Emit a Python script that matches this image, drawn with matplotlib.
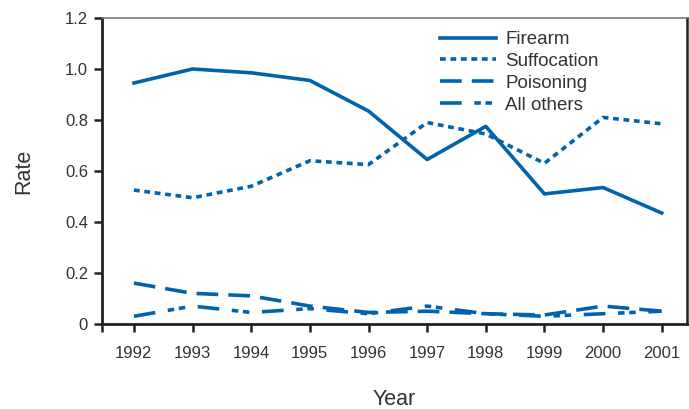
import matplotlib
matplotlib.use("Agg")
import matplotlib.pyplot as plt

plt.rcParams['font.family'] = ['Liberation Sans', 'DejaVu Sans']

years = [1992, 1993, 1994, 1995, 1996, 1997, 1998, 1999, 2000, 2001]
firearm = [0.945, 1.00, 0.985, 0.955, 0.835, 0.645, 0.775, 0.51, 0.535, 0.435]
suffocation = [0.525, 0.495, 0.54, 0.64, 0.625, 0.79, 0.745, 0.63, 0.81, 0.785]
poisoning = [0.16, 0.12, 0.11, 0.07, 0.045, 0.05, 0.04, 0.035, 0.07, 0.05]
all_others = [0.03, 0.07, 0.045, 0.06, 0.04, 0.07, 0.04, 0.03, 0.04, 0.05]

yticks = [0, 0.2, 0.4, 0.6, 0.8, 1.0, 1.2]
ytick_labels = ["0", "0.2", "0.4", "0.6", "0.8", "1.0", "1.2"]

color = "#0063AC"
lw = 2.6

fig = plt.figure(figsize=(6.89, 4.09), dpi=100)
ax = fig.add_axes([0.148, 0.208, 0.849, 0.748])

ax.plot(years, firearm, color=color, lw=lw, label="Firearm")
ax.plot(years, suffocation, color=color, lw=lw, dashes=(1.6, 1.3), label="Suffocation")
ax.plot(years, poisoning, color=color, lw=lw, dashes=(6, 2.8), label="Poisoning")
ax.plot(years, all_others, color=color, lw=lw, dashes=(6, 3.5, 1.8, 1.3, 1.8, 3.5), label="All others")

xmin, xmax = 1991.455, 2001.43
ax.set_xlim(xmin, xmax)
ax.set_ylim(0, 1.2)
ax.set_xticks(years)
ax.set_xticklabels([str(y) for y in years])
ax.set_xticks([xmin], minor=True)
ax.set_yticks(yticks)
ax.set_yticklabels(ytick_labels)

ax.tick_params(axis='both', which='both', direction='out', length=6, width=1.8,
               color='#222222', labelsize=12, labelcolor='#333333')
ax.tick_params(axis='x', pad=10)
ax.tick_params(axis='y', pad=4)

for s in ['left', 'bottom']:
    ax.spines[s].set_linewidth(2)
    ax.spines[s].set_color('#222222')
ax.spines['top'].set_linewidth(1.2)
ax.spines['top'].set_color('#777777')
ax.spines['right'].set_linewidth(1.8)
ax.spines['right'].set_color('#222222')

ax.set_xlabel("Year", fontsize=15.5, color='#333333', labelpad=20)
ax.set_ylabel("Rate", fontsize=15.5, color='#333333', labelpad=22)

leg = ax.legend(loc='upper left', bbox_to_anchor=(0.555, 1.0), frameon=False,
                fontsize=13.5, handlelength=3.0, handletextpad=0.5,
                labelspacing=0.25, borderaxespad=0.3)
for t in leg.get_texts():
    t.set_color('#333333')

fig.savefig("out.png", dpi=100)
